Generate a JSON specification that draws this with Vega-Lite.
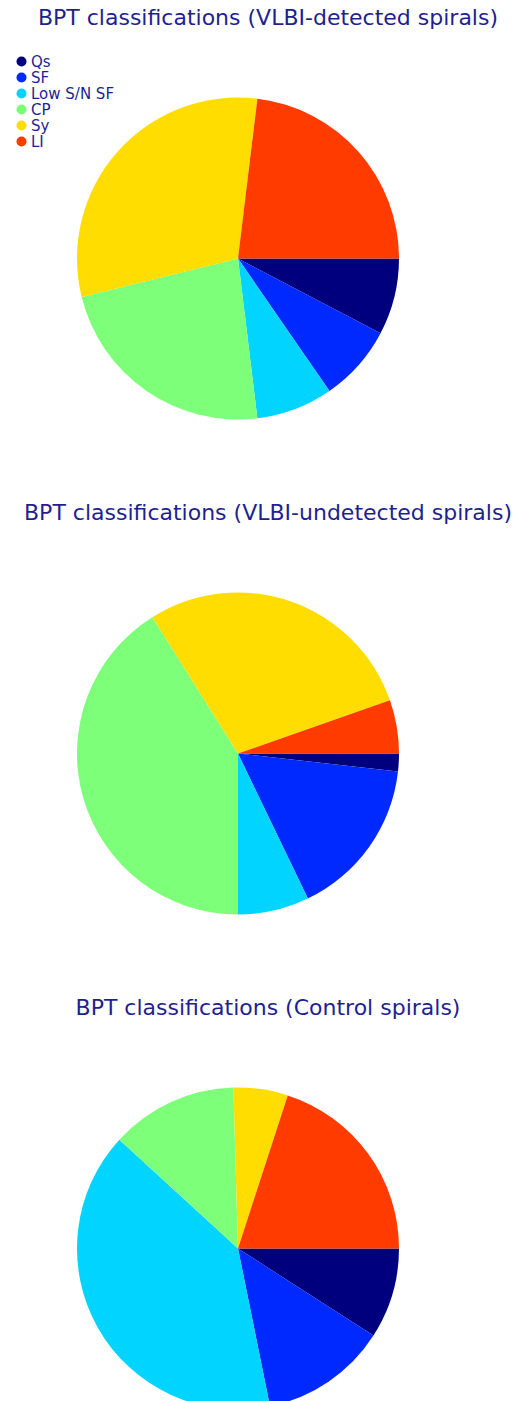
{
  "$schema": "https://vega.github.io/schema/vega-lite/v6.json",
  "padding": {"top": 7, "left": 0, "right": 0, "bottom": 0},
  "spacing": 0,
  "background": "white",
  "config": {
    "view": {"stroke": null},
    "font": "DejaVu Sans",
    "title": {"fontSize": 22, "fontWeight": "normal", "color": "#1f1f8f", "anchor": "middle", "dx": 30, "offset": -15},
    "legend": {"title": null, "orient": "none", "legendX": 14, "legendY": 39, "symbolType": "circle", "symbolSize": 100, "symbolStrokeWidth": 0, "labelFontSize": 15, "labelColor": "#1f1f8f", "rowPadding": 0, "labelOffset": 2}
  },
  "vconcat": [
    {
      "width": 476, "height": 487,
      "title": "BPT classifications (VLBI-detected spirals)",
      "data": {"values": [
        {"cls": "Qs", "idx": 1, "count": 1},
        {"cls": "SF", "idx": 2, "count": 1},
        {"cls": "Low S/N SF", "idx": 3, "count": 1},
        {"cls": "CP", "idx": 4, "count": 3},
        {"cls": "Sy", "idx": 5, "count": 4},
        {"cls": "LI", "idx": 6, "count": 3}
      ]},
      "mark": {"type": "arc", "outerRadius": 161},
      "encoding": {
        "theta": {"field": "count", "type": "quantitative", "stack": true, "scale": {"range": [1.5708, 7.854]}},
        "order": {"field": "idx", "type": "quantitative"},
        "color": {"field": "cls", "type": "nominal", "scale": {"domain": ["Qs", "SF", "Low S/N SF", "CP", "Sy", "LI"], "range": ["#00007f", "#0029ff", "#00d4ff", "#7dff7a", "#ffdd00", "#ff3b00"]}}
      }
    },
    {
      "width": 476, "height": 487,
      "title": "BPT classifications (VLBI-undetected spirals)",
      "data": {"values": [
        {"cls": "Qs", "idx": 1, "count": 1},
        {"cls": "SF", "idx": 2, "count": 9},
        {"cls": "Low S/N SF", "idx": 3, "count": 4},
        {"cls": "CP", "idx": 4, "count": 23},
        {"cls": "Sy", "idx": 5, "count": 16},
        {"cls": "LI", "idx": 6, "count": 3}
      ]},
      "mark": {"type": "arc", "outerRadius": 161},
      "encoding": {
        "theta": {"field": "count", "type": "quantitative", "stack": true, "scale": {"range": [1.5708, 7.854]}},
        "order": {"field": "idx", "type": "quantitative"},
        "color": {"field": "cls", "type": "nominal", "scale": {"domain": ["Qs", "SF", "Low S/N SF", "CP", "Sy", "LI"], "range": ["#00007f", "#0029ff", "#00d4ff", "#7dff7a", "#ffdd00", "#ff3b00"]}}
      }
    },
    {
      "width": 476, "height": 487,
      "title": "BPT classifications (Control spirals)",
      "data": {"values": [
        {"cls": "Qs", "idx": 1, "count": 5},
        {"cls": "SF", "idx": 2, "count": 7},
        {"cls": "Low S/N SF", "idx": 3, "count": 22},
        {"cls": "CP", "idx": 4, "count": 7},
        {"cls": "Sy", "idx": 5, "count": 3},
        {"cls": "LI", "idx": 6, "count": 11}
      ]},
      "mark": {"type": "arc", "outerRadius": 161},
      "encoding": {
        "theta": {"field": "count", "type": "quantitative", "stack": true, "scale": {"range": [1.5708, 7.854]}},
        "order": {"field": "idx", "type": "quantitative"},
        "color": {"field": "cls", "type": "nominal", "scale": {"domain": ["Qs", "SF", "Low S/N SF", "CP", "Sy", "LI"], "range": ["#00007f", "#0029ff", "#00d4ff", "#7dff7a", "#ffdd00", "#ff3b00"]}}
      }
    }
  ]
}
